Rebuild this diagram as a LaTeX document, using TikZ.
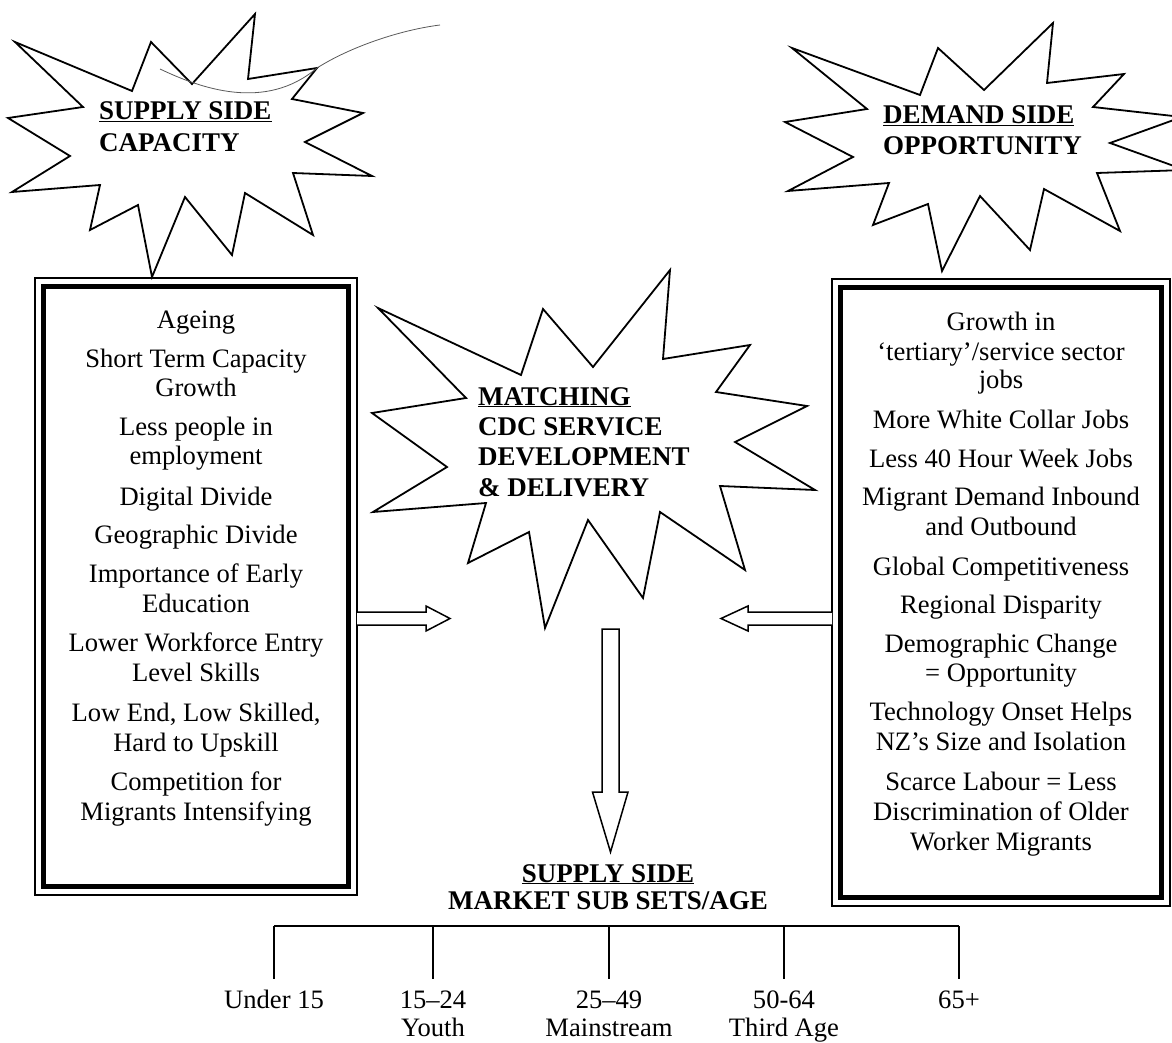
\documentclass[tikz,border=0pt]{standalone}
\usepackage{fontspec}
\setmainfont{Liberation Serif}
\usetikzlibrary{calc}
\begin{document}
\begin{tikzpicture}[x=1pt,y=-1pt,
  starshape/.style={draw, line width=1.8pt, line join=miter, fill=white},
  thinframe/.style={draw, line width=1.2pt},
  thickframe/.style={draw, line width=5.5pt},
  itemtext/.style={anchor=base, inner sep=0pt, font=\fontsize{26.6}{30}\selectfont},
  headtext/.style={anchor=base west, inner sep=0pt, font=\fontsize{27}{30}\selectfont\bfseries},
  blockarrow/.style={draw, line width=1.5pt, line join=miter, fill=white},
  treeline/.style={draw, line width=1.5pt}]
\useasboundingbox (0,0) rectangle (1172,1043);

% ---------- left star ----------
\draw[starshape] (15,42) -- (132,91) -- (151,42) -- (192,84) -- (255,14) -- (248,79)
  -- (317,68) -- (292,99) -- (363,113) -- (305,142) -- (372,176) -- (293,173)
  -- (313,235) -- (245,193) -- (232,255) -- (185,197) -- (152,277) -- (138,205)
  -- (90,230) -- (100,185) -- (12,192) -- (70,156) -- (8,118) -- (83,107) -- cycle;
\node[headtext] (ss1) at (99,120) {\underline{SUPPLY SIDE}};
\node[headtext] (ss2) at (99,152) {CAPACITY};
% stray pen stroke
\draw[black!65, line width=0.8pt] (160,69) .. controls (200,88) and (265,112) .. (317,68)
  .. controls (350,47) and (400,30) .. (440,25);

% ---------- right star ----------
\draw[starshape] (792,48) -- (920,95) -- (938,48) -- (984,90) -- (1053,23) -- (1047,83)
  -- (1124,74) -- (1093,107) -- (1182,117) -- (1110,143) -- (1185,170) -- (1097,173)
  -- (1120,231) -- (1044,189) -- (1030,250) -- (980,196) -- (942,271) -- (928,204)
  -- (873,225) -- (889,183) -- (788,191) -- (853,157) -- (785,122) -- (867,109) -- cycle;
\node[headtext] (ds1) at (883,124) {\underline{DEMAND SIDE}};
\node[headtext] (ds2) at (883,155) {OPPORTUNITY};

% ---------- middle star ----------
\draw[starshape] (378,308) -- (521,375) -- (543,309) -- (593,367) -- (670,270) -- (663,359)
  -- (750,345) -- (716,392) -- (807,406) -- (735,442) -- (815,490) -- (720,486)
  -- (745,570) -- (660,512) -- (643,598) -- (588,520) -- (545,628) -- (529,532)
  -- (468,563) -- (486,503) -- (373,512) -- (447,467) -- (372,413) -- (466,398) -- cycle;
\node[headtext] (m1) at (478,405) {\underline{MATCHING}};
\node[headtext] (m2) at (478,435) {CDC SERVICE};
\node[headtext] (m3) at (478,465) {DEVELOPMENT};
\node[headtext] (m4) at (478,496) {\& DELIVERY};

% ---------- left box ----------
\coordinate (lbA) at (35,278);
\coordinate (lbB) at (357,895);
\draw[thinframe] (lbA) rectangle (lbB);
\draw[thickframe] ($(lbA)+(8.5,8.5)$) rectangle ($(lbB)+(-8.5,-8.5)$);
\foreach \yy/\tt [count=\i] in {
  328/Ageing, 367/Short Term Capacity, 396/Growth, 435/Less people in,
  464/employment, 505/Digital Divide, 543/Geographic Divide,
  582/Importance of Early, 612/Education, 651/Lower Workforce Entry,
  681/Level Skills, 721/{Low End, Low Skilled,}, 751/Hard to Upskill,
  790/Competition for, 820/Migrants Intensifying}
  \node[itemtext] (L\i) at (196,\yy) {\tt};

% ---------- right box ----------
\coordinate (rbA) at (832,279);
\coordinate (rbB) at (1170,906);
\draw[thinframe] (rbA) rectangle (rbB);
\draw[thickframe] ($(rbA)+(8.5,8.5)$) rectangle ($(rbB)+(-8.5,-8.5)$);
\foreach \yy/\tt [count=\i] in {
  330/Growth in, 360/{‘tertiary’\slash service sector}, 388/jobs,
  428/More White Collar Jobs, 467/Less 40 Hour Week Jobs,
  505/Migrant Demand Inbound, 535/and Outbound, 575/Global Competitiveness,
  613/Regional Disparity, 652/Demographic Change, 681/= Opportunity,
  720/Technology Onset Helps, 750/NZ’s Size and Isolation,
  790/Scarce Labour = Less, 820/Discrimination of Older, 850/Worker Migrants}
  \node[itemtext] (R\i) at (1001,\yy) {\tt};

% ---------- block arrows ----------
\coordinate (la) at (357,618.5);
\draw[blockarrow] ($(la)+(0,-6.5)$) -- ++(69,0) -- ++(0,-6) -- ++(24,12.5) -- ++(-24,12.5)
  -- ++(0,-6) -- ++(-69,0);
\coordinate (ra) at (832,618.5);
\draw[blockarrow] ($(ra)+(0,-6.5)$) -- ++(-84,0) -- ++(0,-6) -- ++(-27,12.5) -- ++(27,12.5)
  -- ++(0,-6) -- ++(84,0);
\coordinate (da) at (610.5,629);
\draw[blockarrow] ($(da)+(-8.5,0)$) -- ++(17,0) -- ++(0,163) -- ++(9,0) -- (610.5,852)
  -- (592.5,792) -- ++(9.5,0) -- cycle;

% ---------- bottom ----------
\node[itemtext, font=\fontsize{27}{30}\selectfont\bfseries] (b1) at (608,882) {\underline{SUPPLY SIDE}};
\node[itemtext, font=\fontsize{27}{30}\selectfont\bfseries] (b2) at (608,909) {MARKET SUB SETS/AGE};

\coordinate (t1) at (274,926);
\coordinate (t2) at (433,926);
\coordinate (t3) at (609,926);
\coordinate (t4) at (784,926);
\coordinate (t5) at (959,926);
\draw[treeline, line width=2pt] (t1) -- (t5);
\foreach \c in {t1,t2,t3,t4,t5}
  \draw[treeline] (\c) -- ++(0,53);

\node[itemtext] (a1) at (274,1008) {Under 15};
\node[itemtext] (a2) at (433,1008) {15–24};
\node[itemtext] (a2b) at (433,1036) {Youth};
\node[itemtext] (a3) at (609,1008) {25–49};
\node[itemtext] (a3b) at (609,1036) {Mainstream};
\node[itemtext] (a4) at (784,1008) {50-64};
\node[itemtext] (a4b) at (784,1036) {Third Age};
\node[itemtext] (a5) at (959,1008) {65+};
\end{tikzpicture}
\end{document}
